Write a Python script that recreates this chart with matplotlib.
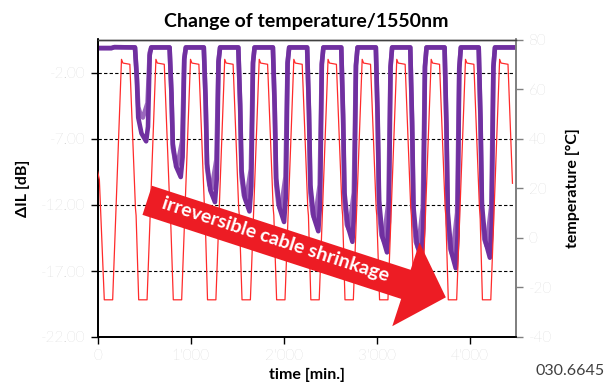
import matplotlib
matplotlib.use("Agg")
import matplotlib.pyplot as plt
from matplotlib.patches import Polygon
from matplotlib.ticker import FuncFormatter, FormatStrFormatter
import numpy as np

plt.rcParams['font.family'] = ['Lato', 'DejaVu Sans']
plt.rcParams['axes.unicode_minus'] = False

# temperature [°C] (right axis)
red_t = [0, 20,
         73, 163, 258, 273, 348, 408, 415,
         443, 533, 628, 643, 718, 778, 785,
         815, 905, 1000, 1015, 1090, 1150, 1157,
         1183, 1273, 1368, 1383, 1458, 1518, 1525,
         1554, 1644, 1739, 1754, 1829, 1889, 1896,
         1926, 2016, 2111, 2126, 2201, 2261, 2268,
         2294, 2384, 2479, 2494, 2569, 2629, 2636,
         2661, 2751, 2846, 2861, 2936, 2996, 3003,
         3033, 3123, 3218, 3233, 3308, 3368, 3375,
         3403, 3493, 3588, 3603, 3678, 3738, 3745,
         3772, 3862, 3957, 3972, 4047, 4107, 4114,
         4139, 4229, 4324, 4339, 4414, 4462]
red_v = [27, 23.5] + [-25, -25, 72, 70.5, 70, 12, 9] * 11 + [-25, -25, 72, 70.5, 70, 22]

# delta IL [dB], first fibre (dark)
il_a_t = [0, 150, 180,
          403, 423, 438, 473, 523, 543, 561, 578,
          775, 795, 810, 845, 895, 915, 933, 950,
          1143, 1163, 1178, 1213, 1263, 1283, 1301, 1318,
          1514, 1534, 1549, 1584, 1634, 1654, 1672, 1689,
          1886, 1906, 1921, 1956, 2006, 2026, 2044, 2061,
          2254, 2274, 2289, 2324, 2374, 2394, 2412, 2429,
          2621, 2641, 2656, 2691, 2741, 2761, 2779, 2796,
          2993, 3013, 3028, 3063, 3113, 3133, 3151, 3168,
          3363, 3383, 3398, 3433, 3483, 3503, 3521, 3538,
          3732, 3752, 3767, 3802, 3852, 3872, 3890, 3907,
          4099, 4119, 4134, 4169, 4219, 4239, 4257, 4274,
          4500]
il_a = [-0.15, -0.15, -0.08,
        -0.1, -2.5, -5.4, -6.6, -7.2, -6.1, -0.7, -0.1,
        -0.1, -3.5, -7.4, -9.1, -9.9, -8.4, -1.0, -0.1,
        -0.1, -4.1, -8.9, -10.9, -11.8, -10.0, -1.2, -0.1,
        -0.1, -4.4, -9.4, -11.5, -12.5, -10.6, -1.3, -0.1,
        -0.1, -4.7, -10.0, -12.2, -13.3, -11.3, -1.3, -0.1,
        -0.1, -4.9, -10.5, -12.9, -14.0, -11.9, -1.4, -0.1,
        -0.1, -5.2, -11.1, -13.6, -14.8, -12.6, -1.5, -0.1,
        -0.1, -5.5, -11.7, -14.4, -15.6, -13.3, -1.6, -0.1,
        -0.1, -5.7, -12.2, -14.9, -16.2, -13.8, -1.6, -0.1,
        -0.1, -5.9, -12.6, -15.5, -16.8, -14.3, -1.7, -0.1,
        -0.1, -5.6, -12.0, -14.7, -16.0, -13.6, -1.6, -0.1,
        -0.1]

# delta IL [dB], second fibre (light)
il_b_t = [0, 150, 180,
          403, 423, 438, 463, 488, 538, 561, 578,
          775, 795, 810, 835, 860, 910, 933, 950,
          1143, 1163, 1178, 1203, 1228, 1278, 1301, 1318,
          1514, 1534, 1549, 1574, 1599, 1649, 1672, 1689,
          1886, 1906, 1921, 1946, 1971, 2021, 2044, 2061,
          2254, 2274, 2289, 2314, 2339, 2389, 2412, 2429,
          2621, 2641, 2656, 2681, 2706, 2756, 2779, 2796,
          2993, 3013, 3028, 3053, 3078, 3128, 3151, 3168,
          3363, 3383, 3398, 3423, 3448, 3498, 3521, 3538,
          3732, 3752, 3767, 3792, 3817, 3867, 3890, 3907,
          4099, 4119, 4134, 4159, 4184, 4234, 4257, 4274,
          4500]
il_b = [-0.15, -0.15, -0.08,
        -0.1, -2.2, -4.6, -5.2, -5.4, -4.3, -0.5, -0.1,
        -0.1, -3.6, -7.7, -8.7, -9.0, -7.2, -0.9, -0.1,
        -0.1, -4.3, -9.2, -10.5, -10.8, -8.6, -1.1, -0.1,
        -0.1, -4.6, -9.9, -11.3, -11.6, -9.3, -1.2, -0.1,
        -0.1, -5.0, -10.5, -12.0, -12.4, -9.9, -1.2, -0.1,
        -0.1, -5.2, -11.1, -12.7, -13.1, -10.5, -1.3, -0.1,
        -0.1, -5.6, -11.8, -13.5, -13.9, -11.1, -1.4, -0.1,
        -0.1, -5.9, -12.5, -14.3, -14.7, -11.8, -1.5, -0.1,
        -0.1, -6.1, -13.0, -14.8, -15.3, -12.2, -1.5, -0.1,
        -0.1, -6.3, -13.4, -15.3, -15.8, -12.6, -1.6, -0.1,
        -0.1, -6.0, -12.8, -14.6, -15.1, -12.1, -1.5, -0.1,
        -0.1]

il_ticks = [-22, -17, -12, -7, -2]
temp_ticks = [-40, -20, 0, 20, 40, 60, 80]
time_ticks = [0, 1000, 2000, 3000, 4000]

W, H = 613, 385
fig = plt.figure(figsize=(W / 100, H / 100), dpi=100)
ax = fig.add_axes([97.5 / W, 1 - 337 / H, (516 - 97.5) / W, (337 - 39.5) / H])
ax2 = ax.twinx()

grey = '#BFBFBF'

ax.plot(il_b_t, il_b, color='#9A68BD', lw=3.3, solid_joinstyle='round', solid_capstyle='round', zorder=3)
ax.plot(il_a_t, il_a, color='#7030A0', lw=3.3, solid_joinstyle='round', solid_capstyle='round', zorder=4)
ax2.plot(red_t, red_v, color='#FF2B2B', lw=0.9, zorder=5)

ax.set_xlim(0, 4500)
ax.set_ylim(-22, 0.5)
ax2.set_ylim(-40, 80)

ax.set_yticks(il_ticks)
ax.yaxis.set_major_formatter(FormatStrFormatter('%.2f'))
ax.set_xticks(time_ticks)
ax.xaxis.set_major_formatter(FuncFormatter(lambda v, p: f"{int(v):,}".replace(',', "'")))
ax2.set_yticks(temp_ticks)

for y in il_ticks[1:]:
    ax.axhline(y, color='black', lw=0.8, ls=(0, (3, 2)), zorder=1)

ax.tick_params(axis='both', direction='out', length=5, width=1, color='black',
               labelcolor=grey, labelsize=11, pad=4)
ax2.tick_params(axis='y', direction='out', length=5, width=1, color='#808080',
                labelcolor=grey, labelsize=11, pad=4)
for lab in ax.get_xticklabels() + ax.get_yticklabels() + ax2.get_yticklabels():
    lab.set_fontweight('light')

for a in (ax, ax2):
    a.spines['left'].set_color('black')
    a.spines['left'].set_linewidth(1.3)
    a.spines['bottom'].set_color('black')
    a.spines['bottom'].set_linewidth(1.3)
    a.spines['top'].set_color('#404040')
    a.spines['top'].set_linewidth(1.0)
    a.spines['right'].set_color('#808080')
    a.spines['right'].set_linewidth(1.3)

ax.set_title('Change of temperature/1550nm', fontsize=14, fontweight='bold', pad=9)
ax.set_ylabel('ΔIL [dB]', fontsize=11.5, fontweight='bold', labelpad=8)
ax2.set_ylabel('temperature [°C]', fontsize=11.5, fontweight='bold', labelpad=10)
ax.set_xlabel('time [min.]', fontsize=11.5, fontweight='bold', labelpad=3)

fig.text(605 / W, 1 - 371 / H, '030.6645', ha='right', va='center', fontsize=11.5, color='#404040')

# arrow annotation, built in pixel space of the figure
ang = np.deg2rad(18)
u = np.array([np.cos(ang), np.sin(ang)])
n = np.array([-np.sin(ang), np.cos(ang)])
p0 = np.array([147.2, 200.3])
half_w, shaft_len, head_w, head_len = 15.3, 272, 44, 42
pts = [p0 - half_w * n,
       p0 + shaft_len * u - half_w * n,
       p0 + shaft_len * u - head_w * n,
       p0 + (shaft_len + head_len) * u,
       p0 + shaft_len * u + head_w * n,
       p0 + shaft_len * u + half_w * n,
       p0 + half_w * n]
pts = [(x / W, 1 - y / H) for x, y in pts]
fig.patches.append(Polygon(pts, closed=True, transform=fig.transFigure,
                           facecolor='#ED1C24', edgecolor='none', zorder=10))
c = p0 + 134 * u - 2 * n
fig.text(c[0] / W, 1 - c[1] / H, 'irreversible cable shrinkage', color='white',
         fontsize=14, fontweight='bold', rotation=-18, rotation_mode='anchor',
         ha='center', va='center', zorder=11)

fig.savefig('out.png', dpi=100)
